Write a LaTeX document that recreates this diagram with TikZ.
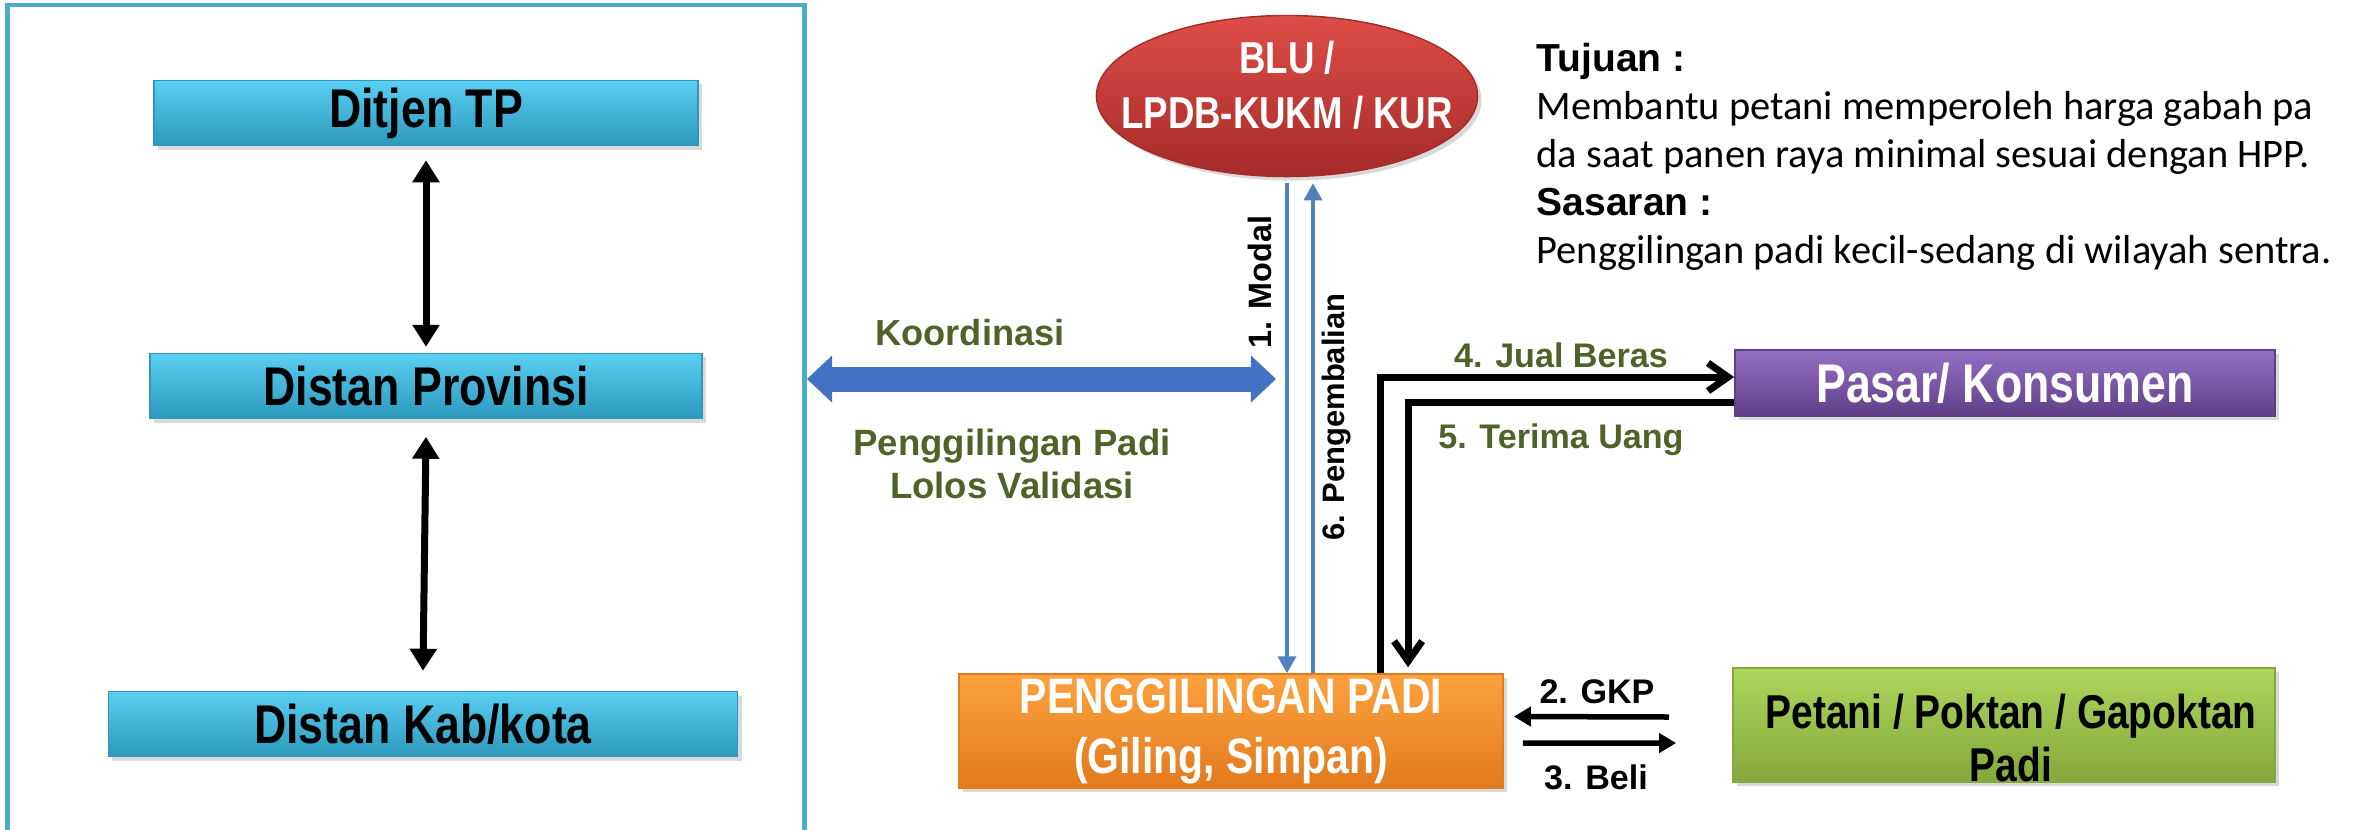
\documentclass[tikz,border=0pt]{standalone}
\usepackage{fontspec}
\setmainfont{Liberation Sans}
\newfontfamily\narrowfont[FakeStretch=0.82]{Liberation Sans}
\newfontfamily\calibrifont{Carlito}
\usetikzlibrary{shapes,arrows.meta,shadows}

\definecolor{framecyan}{HTML}{4BACC6}
\definecolor{cyantop}{HTML}{5ACFF2}
\definecolor{cyanbot}{HTML}{2C98BE}
\definecolor{redtop}{HTML}{DE4D48}
\definecolor{redbot}{HTML}{A52B29}
\definecolor{orangetop}{HTML}{FCA23E}
\definecolor{orangebot}{HTML}{E27A1E}
\definecolor{purpletop}{HTML}{9470C4}
\definecolor{purplebot}{HTML}{5F3F87}
\definecolor{greentop}{HTML}{ADD65C}
\definecolor{greenbot}{HTML}{84A83B}
\definecolor{flowblue}{HTML}{4F81BD}
\definecolor{koordblue}{HTML}{4472C4}
\definecolor{labelgreen}{HTML}{4F6228}

\tikzstyle{boxshadow}=[drop shadow={shadow xshift=0.04cm,shadow yshift=-0.04cm,opacity=0.3}]
\tikzstyle{panel}=[draw=framecyan, line width=0.045cm, minimum width=7.97cm, minimum height=8.5cm, inner sep=0]
\tikzstyle{level}=[shape=rectangle, draw=cyanbot, top color=cyantop, bottom color=cyanbot, boxshadow, minimum height=0.65cm, inner sep=0, font=\narrowfont\bfseries\fontsize{15.5}{18}\selectfont]
\tikzstyle{blubox}=[ellipse, draw=redbot, top color=redtop, bottom color=redbot, boxshadow, minimum width=3.81cm, minimum height=1.61cm, inner sep=0]
\tikzstyle{millbox}=[shape=rectangle, draw=orangebot, top color=orangetop, bottom color=orangebot, boxshadow, minimum width=5.44cm, minimum height=1.14cm, inner sep=0, align=center, text=white, font=\narrowfont\bfseries\fontsize{14.2}{17}\selectfont]
\tikzstyle{marketbox}=[shape=rectangle, draw=purplebot, top color=purpletop, bottom color=purplebot, boxshadow, minimum width=5.40cm, minimum height=0.66cm, inner sep=0, text=white, font=\narrowfont\bfseries\fontsize{15.5}{18}\selectfont]
\tikzstyle{farmerbox}=[shape=rectangle, draw=greenbot, top color=greentop, bottom color=greenbot, boxshadow, minimum width=5.42cm, minimum height=1.14cm, inner sep=0]
\tikzstyle{lbl}=[inner sep=0, font=\bfseries\fontsize{9.7}{11.6}\selectfont]
\tikzstyle{greenlbl}=[lbl, text=labelgreen]
\tikzstyle{vlink}=[line width=0.07cm, {Triangle[width=0.26cm,length=0.22cm]}-{Triangle[width=0.26cm,length=0.22cm]}]
\tikzstyle{koordlink}=[draw=koordblue, line width=0.25cm, {Triangle[width=0.47cm,length=0.25cm,line width=0pt]}-{Triangle[width=0.47cm,length=0.25cm,line width=0pt]}]
\tikzstyle{flowlink}=[draw=flowblue, line width=0.035cm, -{Triangle[width=0.18cm,length=0.17cm]}]
\tikzstyle{cashlink}=[line width=0.07cm, line join=miter, -{Straight Barb[width=0.28cm,length=0.2cm]}]
\tikzstyle{tradelink}=[line width=0.055cm, -{Triangle[width=0.19cm,length=0.17cm]}]

\begin{document}
\begin{tikzpicture}[x=0.01cm,y=-0.01cm]

\clip (0,0) rectangle (2359,829);

\node (panel) [panel] at (406,430) {};

\node (ditjen) [level,minimum width=5.44cm] at (426,113) {Ditjen TP};
\node (prov) [level,minimum width=5.52cm] at (426,386) {Distan Provinsi};
\node (kab) [level,minimum width=6.29cm] at (423,724) {Distan Kab/kota};

\draw[vlink] ([yshift=-0.14cm]ditjen.south) -- ([yshift=0.06cm]prov.north);
\draw[vlink] ([yshift=-0.175cm]prov.south) -- ([yshift=0.2cm]kab.north);

\node (blu) [blubox] at (1287,96) {};
\node (blutext) [inner sep=0, align=center, text=white, font=\narrowfont\bfseries\fontsize{12.7}{15.6}\selectfont] at (1287,85) {BLU /\\LPDB-KUKM / KUR};

\node (mill) [millbox] at (1231,731) {PENGGILINGAN PADI\\(Giling, Simpan)};
\node (market) [marketbox] at (2005,383) {Pasar/ Konsumen};
\node (farmer) [farmerbox] at (2004,725) {};
\node (farmertext) [inner sep=0, align=center, font=\narrowfont\bfseries\fontsize{13.5}{15}\selectfont] at (2011,738) {Petani / Poktan / Gapoktan\\Padi};

\coordinate (kl) at (807,379);
\coordinate (kr) at (1276,379);
\draw[koordlink] (kl) -- (kr);

\draw[flowlink] ([yshift=-0.06cm]blu.south) -- (blu.south |- mill.north);
\draw[flowlink] ([xshift=0.26cm]blu.south |- mill.north) -- ([xshift=0.26cm,yshift=-0.06cm]blu.south);

\draw[cashlink] ([xshift=1.49cm]mill.north) |- ([yshift=0.06cm]market.west);
\draw[cashlink] ([yshift=-0.19cm]market.west) -| ([xshift=1.77cm,yshift=0.06cm]mill.north);

\draw[tradelink] ([xshift=-0.63cm,yshift=0.08cm]farmer.west) -- ([xshift=0.1cm,yshift=0.145cm]mill.east);
\draw[tradelink] ([xshift=0.19cm,yshift=-0.12cm]mill.east) -- ([xshift=-0.56cm,yshift=-0.18cm]farmer.west);

\node (koordlbl) [greenlbl,font=\bfseries\fontsize{10.3}{12}\selectfont] at (970,333) {Koordinasi};
\node (validlbl) [greenlbl,align=center,font=\bfseries\fontsize{10.4}{12}\selectfont] at (1012,464) {Penggilingan Padi\\Lolos Validasi};
\node (modallbl) [lbl,rotate=90,font=\bfseries\fontsize{9.2}{11}\selectfont] at (1260,282) {1. Modal};
\node (paylbl) [lbl,rotate=90,font=\bfseries\fontsize{8.8}{11}\selectfont] at (1337,417) {6. Pengembalian};
\node (jualbl) [greenlbl] at (1561,355) {4. Jual Beras};
\node (terimalbl) [greenlbl] at (1561,440) {5. Terima Uang};
\node (gkplbl) [lbl] at (1597,692) {2. GKP};
\node (belilbl) [lbl] at (1596,777) {3. Beli};

\node (aim) [anchor=north west, align=left, inner sep=0, font=\fontsize{11.5}{13.7}\selectfont] at (1536,42) {{\bfseries\fontsize{11.1}{13.7}\selectfont Tujuan :}\\{\calibrifont Membantu petani memperoleh harga gabah pa}\\{\calibrifont da saat panen raya minimal sesuai dengan HPP.}\\{\bfseries\fontsize{11.1}{13.7}\selectfont Sasaran :}\\{\calibrifont Penggilingan padi kecil-sedang di wilayah sentra.}};

\end{tikzpicture}
\end{document}
